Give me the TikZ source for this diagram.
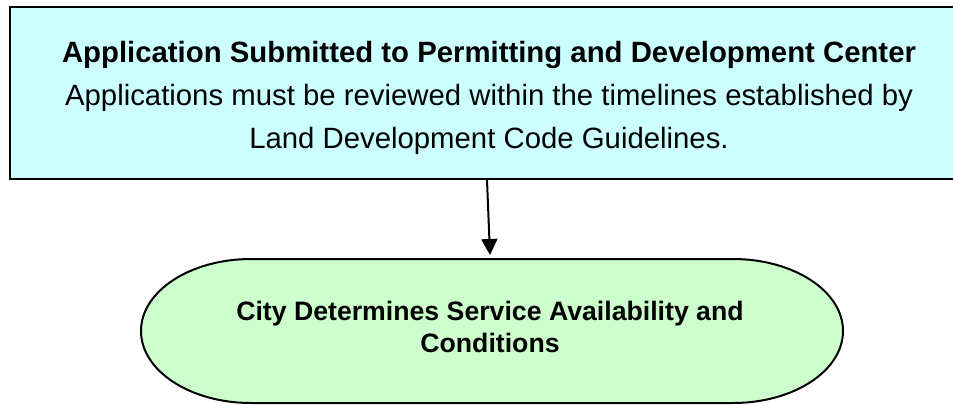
\documentclass[tikz,border=0pt]{standalone}
\usepackage{fontspec}
\setmainfont{Liberation Sans}
\usetikzlibrary{arrows.meta}
\definecolor{permitcyan}{HTML}{CCFFFF}
\definecolor{citygreen}{HTML}{CCFFCC}

\begin{document}
\begin{tikzpicture}[x=0.75pt,y=-0.75pt]
\tikzstyle{every node}+=[inner sep=0pt]
\tikzstyle{permitbox}=[draw=black,line width=1.5pt,fill=permitcyan,minimum width=715.5pt,minimum height=129pt]
\tikzstyle{flowarrow}=[black,line width=1.5pt,-{Triangle[length=12pt,width=12pt]}]
\useasboundingbox (0,0) rectangle (953,404);
\clip (0,0) rectangle (953,404);
\node [permitbox] (submit) at (487,93) {};
\node [align=center,font=\fontsize{22}{32.25}\selectfont] (submitText) at (489,98) {\textbf{Application Submitted to Permitting and Development Center}\\Applications must be reviewed within the timelines established by\\Land Development Code Guidelines.};
\draw [black,line width=1.5pt,fill=citygreen] (251,259) -- (733,259) arc[start angle=-90,end angle=90,x radius=110,y radius=72] -- (251,403) arc[start angle=90,end angle=270,x radius=110,y radius=72] -- cycle;
\node [align=center,font=\fontsize{20}{24}\selectfont\bfseries] (city) at (490,327) {City Determines Service Availability and\\Conditions};
\coordinate (cityTop) at (490,255);
\draw [flowarrow] (submit.south) -- (cityTop);
\end{tikzpicture}
\end{document}
